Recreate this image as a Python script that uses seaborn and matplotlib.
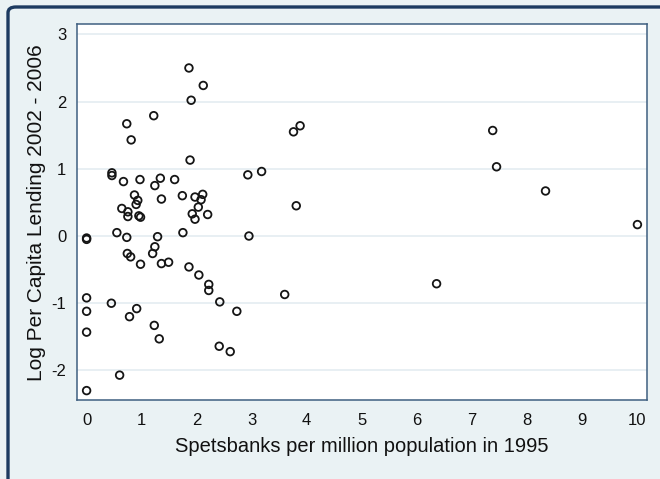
import matplotlib
matplotlib.use("Agg")
import matplotlib.pyplot as plt
import seaborn as sns
import pandas as pd
from matplotlib.patches import FancyBboxPatch

# Spetsbanks per million population in 1995
banks = [0, 0, 0, 0, 0, 0,
         0.46, 0.46, 0.45, 0.60, 0.55,
         0.67, 0.73, 0.81, 0.64, 0.75, 0.75,
         0.73, 0.74, 0.80, 0.78, 0.91,
         0.87, 0.93, 0.90, 0.95, 0.98, 0.97, 0.98,
         1.22, 1.24, 1.34, 1.24, 1.20, 1.29, 1.23, 1.32,
         1.36, 1.36, 1.49, 1.60, 1.74, 1.75,
         1.86, 1.90, 1.88, 1.86,
         1.92, 1.97, 1.97, 2.03, 2.08, 2.11, 2.20,
         2.12, 2.04, 2.22, 2.22,
         2.42, 2.41, 2.61, 2.73,
         2.93, 2.95, 3.18, 3.60,
         3.76, 3.88, 3.81,
         6.36, 7.38, 7.45, 8.34, 10.01]

# Log per capita lending 2002 - 2006
lending = [-0.03, -0.05, -0.92, -1.12, -1.43, -2.30,
           0.94, 0.90, -1.00, -2.07, 0.05,
           0.81, 1.67, 1.43, 0.41, 0.36, 0.29,
           -0.02, -0.26, -0.31, -1.20, -1.08,
           0.61, 0.53, 0.47, 0.30, 0.28, 0.84, -0.42,
           1.79, 0.75, 0.86, -0.16, -0.26, -0.01, -1.33, -1.53,
           0.55, -0.41, -0.39, 0.84, 0.60, 0.05,
           2.50, 2.02, 1.13, -0.46,
           0.33, 0.25, 0.58, 0.43, 0.54, 0.62, 0.32,
           2.24, -0.58, -0.72, -0.81,
           -0.98, -1.64, -1.72, -1.12,
           0.91, 0.00, 0.96, -0.87,
           1.55, 1.64, 0.45,
           -0.71, 1.57, 1.03, 0.67, 0.17]

x_ticks = list(range(0, 11))
y_ticks = [-2, -1, 0, 1, 2, 3]

df = pd.DataFrame({"banks": banks, "lending": lending})

sns.set_style("white")
plt.rcParams["font.family"] = ["Liberation Sans", "DejaVu Sans"]
plt.rcParams["axes.unicode_minus"] = False

bg = "#eaf2f4"
fig = plt.figure(figsize=(6.6, 4.79), dpi=100, facecolor=bg)
ax = fig.add_axes([0.1162, 0.1649, 0.8646, 0.7844])
ax.set_facecolor("white")

sns.scatterplot(data=df, x="banks", y="lending", ax=ax, marker="o",
                s=30, facecolor="none", edgecolor="#151515", linewidth=1.3)

ax.set_xlim(-0.18, 10.19)
ax.set_ylim(-2.44, 3.15)
ax.set_xticks(x_ticks)
ax.set_yticks(y_ticks)
ax.yaxis.grid(True, color="#e6eef2", linewidth=1.3)
ax.set_axisbelow(True)

for sp in ax.spines.values():
    sp.set_visible(True)
    sp.set_color("#3f5f80")
    sp.set_linewidth(1.1)

ax.tick_params(axis="both", direction="out", length=4.5, width=0.8,
               color="#7a8a99", labelsize=12, labelcolor="#111111", pad=3)
ax.tick_params(axis="x", pad=5)

ax.set_xlabel("Spetsbanks per million population in 1995", fontsize=14.5,
              color="#111111", labelpad=6)
ax.set_ylabel("Log Per Capita Lending 2002 - 2006", fontsize=15,
              color="#111111", labelpad=4)

# outer frame of the original graph, partly cropped
frame = FancyBboxPatch((8.0 / 660, -0.2), 1.2, 1.2 - 7.0 / 479,
                       boxstyle="round,pad=0,rounding_size=0.012",
                       transform=fig.transFigure, fill=False,
                       edgecolor="#1c3a60", linewidth=2.4, clip_on=False)
fig.patches.append(frame)

fig.savefig("out.png", dpi=100, facecolor=bg)
